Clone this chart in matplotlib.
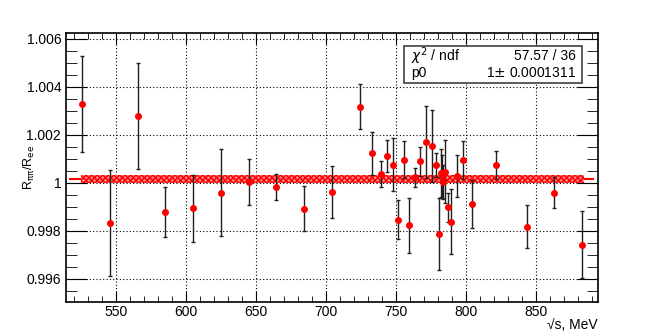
import numpy as np
import matplotlib
matplotlib.use("Agg")
import matplotlib.pyplot as plt
from matplotlib.ticker import MultipleLocator, FuncFormatter

# energy points, MeV
energy = [525.5, 545.5, 565.5, 585.0, 605.0, 624.8, 644.8, 664.5, 684.3, 704.3,
          724.3, 732.6, 739.1, 743.8, 747.6, 751.7, 755.7, 759.5, 763.6, 767.1,
          771.6, 775.7, 778.8, 780.7, 782.1, 783.0, 783.6, 785.2, 786.9, 789.3,
          793.3, 798.1, 804.1, 821.6, 843.6, 862.9, 882.9]
ratio = [1.0033, 0.99832, 1.0028, 0.9988, 0.99895, 0.9996, 1.00004, 0.99983, 0.99893, 0.99963,
         1.00318, 1.00124, 1.00039, 1.00113, 1.00076, 0.99847, 1.00097, 0.99824, 1.00024, 1.0009,
         1.00171, 1.00155, 1.00076, 0.99786, 1.0004, 1.00026, 1.00005, 1.00047, 0.99899, 0.99838,
         1.00029, 1.00096, 0.99913, 1.00075, 0.99818, 0.9996, 0.99743]
ratio_err = [0.002, 0.0022, 0.0022, 0.00105, 0.0014, 0.0018, 0.00095, 0.00053, 0.00095, 0.00107,
             0.00095, 0.0009, 0.00054, 0.00067, 0.0011, 0.00082, 0.00076, 0.00115, 0.0004, 0.0006,
             0.0015, 0.0015, 0.0005, 0.0015, 0.001, 0.0009, 0.0007, 0.0013, 0.0006, 0.00135,
             0.00087, 0.0008, 0.001, 0.0006, 0.0009, 0.00065, 0.0014]

fit_p0 = 1.00015
band_half = 0.00017
line_range = [517, 891]
band_range = [525, 884]

plt.rcParams['font.family'] = ['Liberation Sans', 'DejaVu Sans']

fig = plt.figure(figsize=(6.64, 3.36), dpi=100)
ax = fig.add_axes([0.0994, 0.1012, 0.8012, 0.8006])

# fit line and confidence band
ax.plot(line_range, [fit_p0, fit_p0], color='red', lw=1.5, zorder=2)
ax.fill_between(band_range, fit_p0 - band_half, fit_p0 + band_half,
                facecolor='#ff8080', edgecolor='red', hatch='xxxxxx', lw=0, zorder=2)

ax.errorbar(energy, ratio, yerr=ratio_err, fmt='o', color='red', ms=4,
            ecolor='#202020', elinewidth=1.0, capsize=1.5, capthick=1, zorder=3)

ax.set_xlim(514.3, 894.3)
ax.set_ylim(0.99504, 1.00625)

ax.xaxis.set_major_locator(MultipleLocator(50))
ax.xaxis.set_minor_locator(MultipleLocator(10))
ax.yaxis.set_major_locator(MultipleLocator(0.002))
ax.yaxis.set_minor_locator(MultipleLocator(0.0005))
ax.yaxis.set_major_formatter(FuncFormatter(lambda v, p: '%g' % round(v, 4)))

ax.tick_params(axis='both', which='both', direction='in', top=True, right=True, labelsize=10)
ax.tick_params(axis='x', which='major', length=8)
ax.tick_params(axis='x', which='minor', length=4)
ax.tick_params(axis='y', which='major', length=15)
ax.tick_params(axis='y', which='minor', length=8)
ax.tick_params(axis='x', pad=2)

ax.grid(True, which='major', color='black', linestyle=(0, (1, 2)), lw=0.8)
ax.set_axisbelow(True)
for s in ax.spines.values():
    s.set_linewidth(1.2)

ax.set_xlabel('\u221as, MeV', fontsize=10, ha='right')
ax.xaxis.set_label_coords(1.0, -0.06)
ax.set_ylabel(r'R$_{\mathrm{\pi\pi}}$/R$_{\mathrm{ee}}$', fontsize=9)
ax.yaxis.set_label_coords(-0.055, 0.5)

# stats box
box = plt.Rectangle((0.635, 0.815), 0.335, 0.135, transform=ax.transAxes,
                    facecolor='white', edgecolor='#404040', lw=1.2, zorder=5)
ax.add_patch(box)
ax.text(0.648, 0.915, r'$\chi^2$ / ndf', transform=ax.transAxes, fontsize=10, va='center', zorder=6)
ax.text(0.958, 0.915, '57.57 / 36', transform=ax.transAxes, fontsize=10, va='center', ha='right', zorder=6)
ax.text(0.648, 0.85, 'p0', transform=ax.transAxes, fontsize=10, va='center', zorder=6)
ax.text(0.958, 0.85, '1$\\pm$ 0.0001311', transform=ax.transAxes, fontsize=10, va='center', ha='right', zorder=6)

plt.savefig('out.png', dpi=100)
